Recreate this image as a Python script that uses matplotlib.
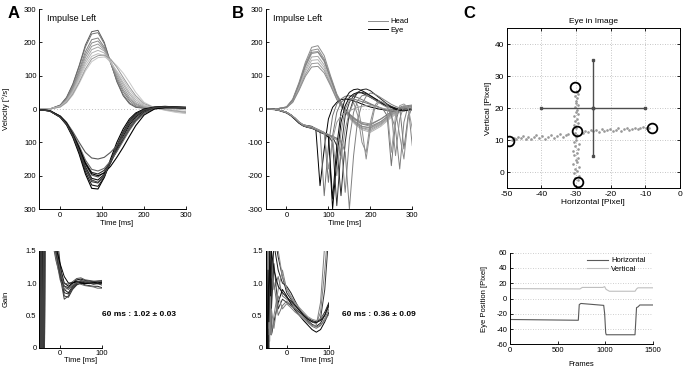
import matplotlib
matplotlib.use("Agg")
import matplotlib.pyplot as plt

plt.rcParams["font.family"] = ["Liberation Sans", "DejaVu Sans"]
plt.rcParams["axes.unicode_minus"] = False

# ---------------- Panel A (top): velocity traces ----------------
t_a = [-50, -25, 0, 15, 30, 45, 60, 75, 90, 105, 120, 135, 150, 165, 180, 200, 225, 250, 275, 300]
head_a = [
    [0, 0, 12, 35, 75, 130, 192, 232, 236, 200, 140, 82, 40, 16, 5, 2, 4, 5, 5, 4],
    [0, 0, 11, 33, 72, 126, 186, 225, 229, 196, 140, 85, 44, 19, 7, 3, 5, 6, 6, 5],
    [0, 0, 10, 30, 66, 116, 172, 208, 213, 186, 138, 90, 52, 25, 10, 4, 5, 6, 5, 4],
    [0, 0, 9, 28, 62, 110, 163, 198, 204, 182, 140, 96, 58, 30, 14, 5, 5, 4, 3, 2],
    [0, 0, 9, 27, 58, 104, 155, 188, 195, 178, 142, 102, 66, 36, 17, 6, 5, 4, 3, 1],
    [0, 0, 8, 25, 55, 98, 146, 178, 186, 174, 144, 108, 74, 44, 22, 8, 4, 2, 0, -3],
    [0, 0, 8, 24, 52, 93, 138, 168, 176, 168, 142, 110, 80, 50, 28, 10, 3, 0, -4, -8],
    [0, 0, 7, 22, 49, 88, 130, 158, 166, 160, 140, 114, 88, 58, 34, 12, 3, -3, -8, -12],
    [0, 0, 6, 19, 42, 76, 114, 142, 154, 156, 148, 130, 108, 80, 50, 20, 4, -4, -10, -14],
    [0, 0, 6, 20, 45, 80, 120, 150, 160, 162, 150, 125, 95, 66, 40, 16, 4, -2, -6, -10],
]
eye_a = [
    [-2, -6, -25, -48, -85, -135, -195, -238, -240, -205, -150, -100, -60, -30, -12, 0, 6, 8, 6, 5],
    [-2, -6, -24, -46, -82, -130, -188, -228, -232, -205, -158, -110, -68, -36, -15, -2, 5, 7, 6, 5],
    [-2, -6, -24, -45, -80, -126, -180, -218, -222, -200, -160, -115, -75, -42, -20, -4, 4, 6, 5, 4],
    [-2, -5, -23, -44, -78, -122, -173, -208, -213, -196, -162, -120, -82, -48, -24, -6, 3, 5, 5, 4],
    [-2, -5, -23, -43, -76, -118, -166, -198, -204, -190, -160, -124, -88, -54, -28, -8, 2, 5, 4, 3],
    [-2, -5, -22, -42, -74, -114, -160, -190, -195, -184, -158, -126, -92, -60, -33, -10, 2, 4, 4, 3],
    [-2, -5, -22, -41, -72, -110, -153, -181, -186, -178, -156, -128, -96, -64, -37, -13, 1, 4, 4, 3],
    [-2, -5, -21, -40, -68, -100, -130, -147, -150, -145, -130, -110, -86, -60, -36, -13, 1, 4, 4, 3],
    [-2, -5, -22, -42, -75, -116, -163, -194, -200, -192, -172, -145, -115, -82, -50, -18, 0, 4, 4, 3],
    [-2, -6, -24, -45, -79, -124, -177, -213, -220, -200, -158, -112, -72, -40, -18, -3, 4, 6, 5, 4],
]

# ---------------- Panel B (top): velocity traces ----------------
t_bh = [-50, -25, 0, 15, 30, 45, 60, 75, 90, 105, 120, 135, 150, 165, 180, 200, 225, 250, 275, 300]
head_b = [
    [0, 0, 6, 30, 80, 140, 185, 190, 160, 100, 45, 10, -15, -30, -40, -45, -30, -10, 5, 10],
    [0, 0, 6, 28, 76, 134, 176, 180, 150, 95, 42, 8, -18, -34, -45, -52, -38, -15, 2, 8],
    [0, 0, 5, 26, 72, 126, 166, 170, 142, 90, 40, 5, -22, -40, -52, -58, -42, -18, 0, 5],
    [0, 0, 5, 24, 68, 118, 156, 158, 132, 84, 36, 2, -25, -45, -58, -66, -48, -22, -3, 3],
    [0, 0, 5, 22, 64, 112, 146, 148, 124, 78, 32, 0, -28, -48, -62, -70, -52, -25, -5, 0],
    [0, 0, 4, 21, 60, 104, 136, 138, 116, 74, 30, 0, -24, -44, -56, -62, -45, -18, 0, 5],
    [0, 0, 4, 20, 56, 98, 126, 128, 108, 70, 28, 0, -20, -40, -52, -56, -38, -12, 4, 8],
    [0, 0, 6, 27, 74, 130, 170, 172, 145, 92, 40, 6, -16, -32, -44, -48, -30, -8, 8, 12],
]
t_be = list(range(-50, 301, 10))
eye_b = [
    [0, 0, -1, -3, -6, -10, -17, -27, -40, -48, -50, -52, -60, -230, -120, -30, 5, 20, 28, 30, 28, 24, 20, 15, 10, 6, 3, 0, -2, -4, -3, 0, 2, 0, -2, 0],
    [0, 0, -1, -3, -6, -10, -18, -29, -41, -49, -52, -54, -60, -66, -260, -110, -20, 15, 30, 38, 40, 38, 34, 28, 22, 16, 10, 5, 0, -5, -8, -5, 0, 3, 0, -2],
    [0, 0, -1, -3, -7, -11, -19, -30, -42, -50, -53, -55, -61, -68, -73, -85, -300, -150, -40, 10, 35, 45, 50, 48, 42, 35, 28, 20, 14, 8, 4, 0, -3, -2, 0, -1],
    [0, -1, -2, -4, -8, -12, -20, -31, -43, -51, -55, -57, -63, -70, -75, -80, -100, -290, -120, -20, 20, 40, 48, 50, 46, 40, 32, 25, 18, 12, 6, 2, -1, -3, -2, -1],
    [0, 0, -1, -3, -6, -10, -18, -28, -40, -50, -55, -58, -63, -69, -74, -79, -84, -110, -260, -100, -10, 30, 50, 58, 60, 55, 45, 35, 25, 15, 8, 3, 0, -2, -4, -2],
    [0, 0, -1, -3, -6, -10, -18, -28, -40, -50, -54, -56, -60, -66, -72, -78, -82, -88, -95, -130, -300, -140, -30, 15, 38, 48, 45, 38, 30, 22, 14, 8, 3, 0, -2, 0],
    [0, 0, -1, -3, -6, -10, -17, -27, -39, -47, -50, -53, -58, -64, -70, -220, -80, -10, 20, 30, 32, 30, 26, 22, 18, 14, 10, 6, 0, -20, -170, -40, 5, -120, -20, 5],
    [0, 0, -1, -3, -6, -10, -18, -28, -40, -49, -52, -55, -60, -66, -71, -76, -90, -200, -70, 0, 25, 30, 10, -60, -150, -60, 0, 20, 18, 10, -10, -140, -30, 10, 0, -5],
    [0, 0, -1, -3, -6, -10, -18, -28, -40, -49, -53, -55, -61, -67, -72, -77, -82, -88, -100, -250, -90, -10, 25, 40, 42, 36, 28, 20, 12, 5, -20, -60, -180, -40, 10, -110],
    [0, 0, -1, -3, -6, -10, -18, -29, -41, -50, -54, -56, -62, -68, -74, -80, -270, -110, -10, 30, 50, 58, 60, 55, 48, 40, 32, 24, 16, 10, 5, 0, -4, -6, -3, 0],
    [0, 0, -1, -3, -6, -10, -18, -28, -40, -50, -54, -57, -62, -68, -74, -80, -86, -92, -150, -60, -10, 20, -20, -100, -130, -40, 10, 25, 20, 10, 0, -5, -80, -150, -30, 10],
    [0, 0, -1, -3, -6, -10, -17, -27, -39, -47, -51, -54, -59, -65, -72, -180, -90, -40, -20, -10, -5, 0, 5, 8, 10, 10, 8, 5, 2, 0, -130, -20, 10, 15, 5, -60],
]

# ---------------- Gain panels ----------------
t_onset = [-50, -48, -46, -44, -42, -40, -38, -36]
t_gain = [-30, -20, -10, 0, 10, 20, 30, 40, 50, 60, 70, 80, 90, 100]
onset_a = [
    [3, -1, 3, -1, 3, -1, 3, 3],
    [-1, 3, -1, 3, -1, 3, -1, 3],
    [2, -1, 2, -1, 2, -1, 2, 3],
    [-1, 2, -1, 2, -1, 2, -1, 3],
    [3, -1, 3, -1, 3, -1, 3, 3],
    [-1, 3, -1, 3, -1, 3, -1, 3],
    [3, -1, 3, -1, 3, -1, 3, 3],
    [-1, 3, -1, 3, -1, 3, -1, 3],
    [2, -1, 2, -1, 2, -1, 2, 3],
    [-1, 2, -1, 2, -1, 2, -1, 3],
]
gain_a = [
    [3, 2.2, 1.6, 1.25, 1.0, 0.95, 1.0, 1.03, 1.02, 1.0, 1.01, 1.0, 0.99, 1.0],
    [2.5, 1.9, 1.45, 1.15, 0.9, 0.85, 0.95, 1.0, 1.01, 1.0, 0.99, 1.0, 1.02, 1.01],
    [3.5, 2.5, 1.7, 1.2, 0.8, 0.78, 0.9, 0.97, 1.0, 1.0, 1.0, 0.98, 0.99, 0.97],
    [2.8, 2.0, 1.5, 1.1, 0.95, 0.93, 1.0, 1.05, 1.06, 1.04, 1.03, 1.02, 1.0, 1.02],
    [2.2, 1.7, 1.35, 1.1, 1.0, 0.98, 1.02, 1.07, 1.08, 1.05, 1.04, 1.03, 1.03, 1.04],
    [4, 3, 1.9, 1.3, 0.85, 0.83, 0.92, 0.98, 1.0, 0.97, 0.96, 0.95, 0.95, 0.93],
    [2.6, 1.8, 1.4, 1.05, 0.9, 0.92, 0.98, 1.0, 0.98, 0.96, 0.95, 0.94, 0.92, 0.92],
    [3.2, 2.3, 1.6, 1.2, 0.95, 0.9, 0.96, 1.02, 1.04, 1.03, 1.02, 1.01, 1.0, 0.99],
    [2.4, 1.9, 1.55, 1.3, 1.1, 1.0, 1.0, 1.02, 1.0, 0.99, 1.0, 1.01, 1.0, 1.0],
    [3, 2.1, 1.5, 1.1, 0.75, 0.8, 0.93, 1.0, 1.03, 1.02, 1.01, 1.02, 1.03, 1.03],
]
onset_b = [
    [3, -1, 3, -1, 2, 0.2, 1.8, 0.9],
    [-1, 3, -1, 2, -1, 1.6, 0.3, 1.4],
    [2, -1, 2, 0.1, 1.7, 0.4, 1.2, 0.2],
    [-1, 2, -1, 1.9, 0.1, 1.1, 1.5, 0.6],
    [3, -1, 3, -1, 1.5, 0.2, 0.8, 2],
    [-1, 3, -1, 2, 0.3, 1.8, 0.5, 0.2],
    [3, -1, 2, 0.2, 1.4, 0.7, 2, 1.1],
    [-1, 3, -1, 1.5, 0.6, 0.1, 1.3, 2],
    [2, -1, 2, 0.3, 1.8, 0.9, 0.2, 0.6],
    [-1, 2, -1, 1.2, 0.4, 1.6, 0.8, 1.5],
]
gain_b = [
    [1.6, 1.2, 1.0, 0.95, 0.85, 0.72, 0.6, 0.5, 0.42, 0.36, 0.33, 0.38, 0.5, 0.65],
    [0.9, 1.1, 0.8, 0.75, 0.7, 0.62, 0.55, 0.48, 0.4, 0.33, 0.3, 0.34, 0.45, 0.6],
    [0.4, 0.7, 0.9, 0.8, 0.68, 0.58, 0.5, 0.42, 0.35, 0.28, 0.24, 0.28, 0.4, 0.55],
    [1.3, 0.6, 0.75, 0.7, 0.65, 0.6, 0.55, 0.5, 0.45, 0.4, 0.38, 0.45, 0.9, 1.8],
    [1.8, 1.4, 1.1, 0.85, 0.75, 0.66, 0.58, 0.52, 0.46, 0.42, 0.4, 0.44, 0.55, 0.7],
    [0.5, 0.9, 1.2, 0.9, 0.78, 0.68, 0.6, 0.52, 0.45, 0.4, 0.37, 0.55, 1.2, 2.0],
    [1.0, 0.5, 0.65, 0.72, 0.66, 0.6, 0.52, 0.46, 0.4, 0.35, 0.32, 0.35, 0.42, 0.52],
    [2, 1.5, 1.1, 0.92, 0.8, 0.7, 0.62, 0.55, 0.48, 0.44, 0.42, 0.45, 0.52, 0.6],
    [0.3, 0.8, 0.6, 0.68, 0.62, 0.55, 0.5, 0.44, 0.38, 0.34, 0.35, 0.7, 1.6, 2.2],
    [1.2, 0.95, 0.85, 0.78, 0.72, 0.65, 0.58, 0.5, 0.44, 0.4, 0.39, 0.42, 0.5, 0.68],
]
gain_text_a = "60 ms : 1.02 ± 0.03"
gain_text_b = "60 ms : 0.36 ± 0.09"

# ---------------- Panel C (top): eye in image ----------------
h_x = [-48.6, -48.0, -47.3, -46.7, -46.0, -45.2, -44.5, -43.8, -43.0, -42.2, -41.5, -40.6, -39.8,
       -38.9, -38.0, -37.2, -36.4, -35.5, -34.6, -33.8, -33.0, -32.2, -28.0, -27.3, -26.5, -25.8,
       -25.0, -24.2, -23.4, -22.6, -21.8, -21.0, -20.2, -19.4, -18.6, -17.8, -17.0, -16.2, -15.4,
       -14.6, -13.8, -13.0, -12.2, -11.4, -10.6, -9.8, -9.0]
h_y = [10.2, 10.8, 10.4, 11.0, 10.6, 11.3, 10.5, 11.1, 10.3, 10.9, 11.6, 10.7, 11.2, 10.4, 11.0,
       11.8, 10.8, 11.3, 11.9, 11.1, 11.6, 12.0, 12.4, 13.0, 12.6, 13.3, 12.8, 13.1, 12.5, 13.4,
       12.9, 13.2, 13.6, 12.8, 13.3, 13.7, 13.0, 13.5, 13.9, 13.2, 13.6, 14.0, 13.4, 13.8, 14.1,
       13.7, 14.0]
v_x = [-29.4, -30.2, -29.0, -30.6, -29.6, -30.4, -29.2, -30.8, -29.8, -30.0, -29.3, -30.5, -29.7,
       -30.9, -29.5, -30.3, -29.1, -30.7, -29.9, -30.1, -29.6, -30.4, -30.0, -30.6, -29.4, -30.2,
       -29.8, -30.5, -29.3, -30.1, -29.7, -30.3, -29.5, -29.9, -30.0, -29.6, -30.2, -29.4, -29.8]
v_y = [-2.5, -1.8, -1.0, -0.3, 0.4, 1.1, 1.8, 2.5, 3.2, 3.9, 4.6, 5.3, 6.0, 6.7, 7.4, 8.1, 8.8,
       9.5, 10.2, 10.9, 11.6, 12.3, 14.0, 14.7, 15.4, 16.1, 16.8, 17.5, 18.2, 18.9, 19.6, 20.3,
       21.0, 21.7, 22.4, 23.1, 23.8, 24.5, 25.2]
circ_x = [-30.4, -29.8, -49.2, -8.2, -29.5]
circ_y = [26.6, 12.9, 9.9, 13.9, -2.9]
cross_h_x = [-40, -25, -10]
cross_h_y = [20, 20, 20]
cross_v_x = [-25, -25, -25]
cross_v_y = [5, 20, 35]

# ---------------- Panel C (bottom): eye position ----------------
frames_h = [0, 718, 728, 745, 985, 995, 1006, 1012, 1314, 1322, 1330, 1345, 1365, 1500]
pos_h = [-27.5, -28.5, -8, -6.5, -9, -20, -45, -47.5, -47.5, -30, -12, -11, -8.5, -8.5]
frames_v = [0, 735, 760, 975, 995, 1010, 1045, 1315, 1330, 1345, 1500]
pos_v = [13, 12.5, 14.5, 14.5, 15.5, 12, 9.5, 9.5, 12.5, 14, 14]

W, H = 686, 369
fig = plt.figure(figsize=(W / 100, H / 100), dpi=100)


def px_axes(x0, y0, x1, y1):
    return fig.add_axes([x0 / W, 1 - y1 / H, (x1 - x0) / W, (y1 - y0) / H])


def style_open(ax):
    for s in ("top", "right"):
        ax.spines[s].set_visible(False)
    for s in ("left", "bottom"):
        ax.spines[s].set_linewidth(0.7)
    ax.tick_params(direction="in", length=2, width=0.6, labelsize=5.5, pad=2)


head_grays = ["0.35", "0.45", "0.5", "0.55", "0.6", "0.65", "0.7", "0.75", "0.78", "0.6"]
eye_grays = ["0.0", "0.1", "0.2", "0.05", "0.3", "0.15", "0.4", "0.35", "0.0", "0.25"]

# ---- A top ----
axA = px_axes(39.3, 9, 186, 209)
axA.axhline(0, color="0.75", lw=0.7, ls=(0, (1, 2)), zorder=0)
for vals, c in zip(head_a, head_grays):
    axA.plot(t_a, vals, color=c, lw=0.7)
for vals, c in zip(eye_a, eye_grays):
    axA.plot(t_a, vals, color=c, lw=0.8)
axA.set_xlim(-50, 300)
axA.set_ylim(-300, 300)
axA.set_xticks([0, 100, 200, 300])
axA.set_yticks([-300, -200, -100, 0, 100, 200, 300])
axA.set_yticklabels(["300", "200", "100", "0", "100", "200", "300"])
style_open(axA)
axA.set_xlabel("Time [ms]", fontsize=5.5)
axA.xaxis.set_label_coords(0.53, -0.055)
axA.set_ylabel("Velocity [°/s]", fontsize=5.5)
axA.yaxis.set_label_coords(-0.2, 0.5)
axA.text(0.05, 0.975, "Impulse Left", transform=axA.transAxes, fontsize=6.5, va="top")

# ---- B top ----
axB = px_axes(265.5, 9, 412.3, 209)
axB.axhline(0, color="0.75", lw=0.7, ls=(0, (1, 2)), zorder=0)
b_head_grays = ["0.5", "0.55", "0.6", "0.65", "0.7", "0.6", "0.55", "0.5"]
b_eye_grays = ["0.1", "0.45", "0.0", "0.2", "0.15", "0.5", "0.45", "0.55", "0.5", "0.05", "0.55", "0.6"]
for i, (vals, c) in enumerate(zip(head_b, b_head_grays)):
    axB.plot(t_bh, vals, color=c, lw=0.7, label="Head" if i == 0 else None)
for i, (vals, c) in enumerate(zip(eye_b, b_eye_grays)):
    axB.plot(t_be, vals, color=c, lw=0.7, label="Eye" if i == 0 else None)
axB.set_xlim(-50, 300)
axB.set_ylim(-300, 300)
axB.set_xticks([0, 100, 200, 300])
axB.set_yticks([-300, -200, -100, 0, 100, 200, 300])
style_open(axB)
axB.set_xlabel("Time [ms]", fontsize=5.5)
axB.xaxis.set_label_coords(0.54, -0.055)
axB.text(0.05, 0.975, "Impulse Left", transform=axB.transAxes, fontsize=6.5, va="top")
hl, ll = axB.get_legend_handles_labels()
hl[0].set_color("0.55")
hl[1].set_color("0.0")
axB.legend(hl, ll, loc="upper right", bbox_to_anchor=(1.02, 0.99), frameon=False, fontsize=5.5,
           handlelength=2.6, handletextpad=0.3, labelspacing=0.2)

# ---- gain panels ----
for x0, x1, onset, gains, ylab, txt, tx, xl in (
    (39.3, 101.7, onset_a, gain_a, "Gain", gain_text_a, 101.7, 0.66),
    (265.5, 329, onset_b, gain_b, None, gain_text_b, 341.7, 0.8),
):
    ax = px_axes(x0, 250.7, x1, 347.7)
    for k, (on, g) in enumerate(zip(onset, gains)):
        c = eye_grays[k] if ylab else b_eye_grays[k]
        ax.plot(t_onset + t_gain, on + g, color=c, lw=0.7)
    ax.set_xlim(-50, 100)
    ax.set_ylim(0, 1.5)
    ax.set_xticks([0, 100])
    ax.set_yticks([0, 0.5, 1.0, 1.5])
    ax.set_yticklabels(["0", "0.5", "1.0", "1.5"])
    style_open(ax)
    ax.set_xlabel("Time [ms]", fontsize=5.5)
    ax.xaxis.set_label_coords(xl, -0.1)
    if ylab:
        ax.set_ylabel(ylab, fontsize=5.5)
        ax.yaxis.set_label_coords(-0.48, 0.5)
    fig.text(tx / W, 1 - 314 / H, txt, fontsize=6, fontweight="bold", va="center")

# ---- C top ----
axC = px_axes(506.7, 28.3, 680, 188.3)
axC.grid(True, color="0.7", ls=(0, (1, 2)), lw=0.6)
axC.set_axisbelow(True)
axC.plot(h_x, h_y, ls="none", marker="o", ms=0.9, color="0.6")
axC.plot(v_x, v_y, ls="none", marker="o", ms=0.9, color="0.6")
axC.plot(cross_h_x, cross_h_y, color="0.3", lw=1.0, marker="s", ms=1.5)
axC.plot(cross_v_x, cross_v_y, color="0.3", lw=1.0, marker="s", ms=1.5)
axC.plot(circ_x, circ_y, ls="none", marker="o", ms=7, mfc="none", mec="black", mew=1.3)
axC.set_xlim(-50, 0)
axC.set_ylim(-5, 45)
axC.set_xticks([-50, -40, -30, -20, -10, 0])
axC.set_yticks([0, 10, 20, 30, 40])
for s in axC.spines.values():
    s.set_linewidth(0.7)
axC.tick_params(direction="in", length=2, width=0.6, labelsize=6, pad=2, top=True, right=True)
axC.set_title("Eye in Image", fontsize=6, pad=4)
axC.set_xlabel("Horizontal [Pixel]", fontsize=6, labelpad=1)
axC.set_ylabel("Vertical [Pixel]", fontsize=6, labelpad=2)

# ---- C bottom ----
axD = px_axes(510, 252.7, 652.7, 344.3)
axD.grid(True, axis="y", color="0.75", ls=(0, (1, 2)), lw=0.6)
axD.set_axisbelow(True)
axD.plot(frames_h, pos_h, color="0.35", lw=0.8, label="Horizontal")
axD.plot(frames_v, pos_v, color="0.75", lw=0.8, label="Vertical")
axD.set_xlim(0, 1500)
axD.set_ylim(-60, 60)
axD.set_xticks([0, 500, 1000, 1500])
axD.set_yticks([-60, -40, -20, 0, 20, 40, 60])
style_open(axD)
axD.set_xlabel("Frames", fontsize=5.5, labelpad=5)
axD.set_ylabel("Eye Position [Pixel]", fontsize=5.5)
axD.yaxis.set_label_coords(-0.155, 0.5)
axD.legend(loc="upper right", bbox_to_anchor=(1.0, 1.03), frameon=False, fontsize=5.5,
           handlelength=2.8, handletextpad=0.4, labelspacing=0.2)

# ---- panel letters ----
for x, lab in ((8, "A"), (232, "B"), (463, "C")):
    fig.text(x / W, 1 - 14 / H, lab, fontsize=12, fontweight="bold", va="center")

fig.savefig("out.png", dpi=100)
